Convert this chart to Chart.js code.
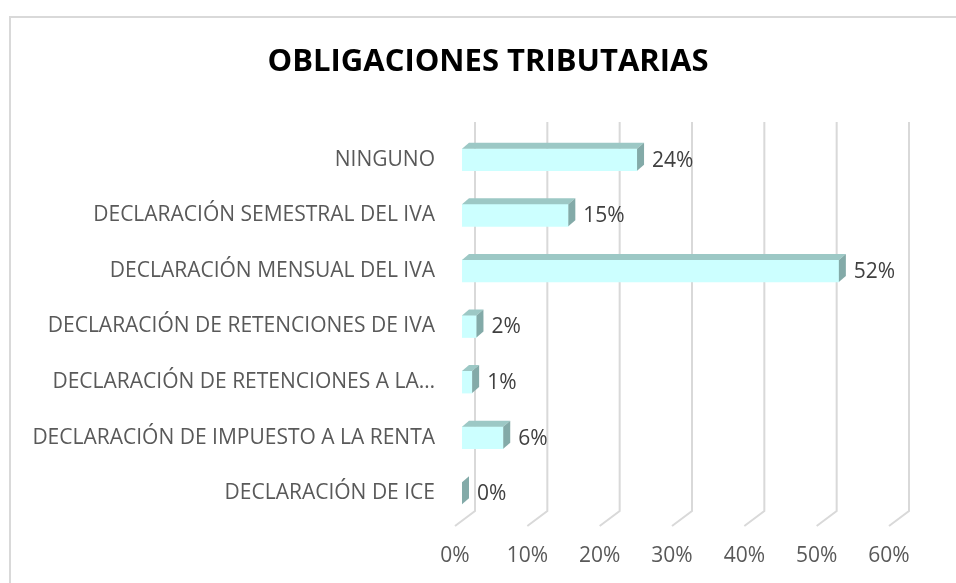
<!DOCTYPE html>
<html lang="es">
<head>
<meta charset="UTF-8">
<title>Obligaciones tributarias</title>
<script src="https://cdn.jsdelivr.net/npm/chart.js"></script>
<style>
  html, body { margin: 0; padding: 0; background: #fff; }
  #wrap { width: 956px; height: 583px; position: relative; }
</style>
</head>
<body>
<div id="wrap"><canvas id="grafico"></canvas></div>
<script>
// datos (de arriba hacia abajo)
const titulo = 'OBLIGACIONES TRIBUTARIAS';
const categorias = [
  'NINGUNO',
  'DECLARACIÓN SEMESTRAL DEL IVA',
  'DECLARACIÓN MENSUAL DEL IVA',
  'DECLARACIÓN DE RETENCIONES DE IVA',
  'DECLARACIÓN DE RETENCIONES A LA…',
  'DECLARACIÓN DE IMPUESTO A LA RENTA',
  'DECLARACIÓN DE ICE'
];
const porcentajes = [24.2, 14.7, 52.1, 2.0, 1.4, 5.7, 0];
const ejeMin = 0, ejeMax = 60, ejePaso = 10;

const FUENTE = "'Open Sans', 'DejaVu Sans', sans-serif";
const DX = 7, DY = 6;          // profundidad de las barras
const FONDO_DX = 13;           // pared del fondo respecto a la barra
const SUELO_DX = 20, SUELO_DY = 15;

// marco gris + titulo
const marco = {
  id: 'marco',
  beforeDraw(chart) {
    const c = chart.ctx;
    c.save();
    c.strokeStyle = '#d9d9d9';
    c.lineWidth = 2;
    c.beginPath();
    c.moveTo(10, chart.height + 5);
    c.lineTo(10, 17);
    c.lineTo(chart.width + 5, 17);
    c.stroke();
    c.fillStyle = '#000';
    c.font = 'bold 31px ' + FUENTE;
    c.textAlign = 'center';
    c.textBaseline = 'middle';
    c.fillText(titulo, chart.width / 2 + 10, 62);
    c.restore();
  }
};

// lineas de division en perspectiva
const rejilla3d = {
  id: 'rejilla3d',
  beforeDatasetsDraw(chart) {
    const c = chart.ctx, x = chart.scales.x, a = chart.chartArea;
    c.save();
    c.strokeStyle = '#d9d9d9';
    c.lineWidth = 2;
    for (let v = ejeMin; v <= ejeMax; v += ejePaso) {
      const xb = x.getPixelForValue(v) + FONDO_DX;
      c.beginPath();
      c.moveTo(xb, a.top - 10);
      c.lineTo(xb, a.bottom - 10);
      c.lineTo(xb - SUELO_DX, a.bottom - 10 + SUELO_DY);
      c.stroke();
    }
    c.restore();
  }
};

// caras superior y lateral + etiquetas
const barras3d = {
  id: 'barras3d',
  afterDatasetsDraw(chart) {
    const c = chart.ctx;
    const meta = chart.getDatasetMeta(0);
    c.save();
    meta.data.forEach((bar, i) => {
      const p = bar.getProps(['x', 'y', 'base', 'height'], true);
      const top = p.y - p.height / 2, bot = p.y + p.height / 2;
      c.fillStyle = '#9cc8c5';
      c.beginPath();
      c.moveTo(p.base, top);
      c.lineTo(p.x, top);
      c.lineTo(p.x + DX, top - DY);
      c.lineTo(p.base + DX, top - DY);
      c.closePath();
      c.fill();
      c.fillStyle = '#83aaa8';
      c.beginPath();
      c.moveTo(p.x, top);
      c.lineTo(p.x + DX, top - DY);
      c.lineTo(p.x + DX, bot - DY);
      c.lineTo(p.x, bot);
      c.closePath();
      c.fill();

      c.fillStyle = '#404040';
      c.font = '21px ' + FUENTE;
      c.textAlign = 'left';
      c.textBaseline = 'middle';
      c.fillText(Math.round(porcentajes[i]) + '%', p.x + 15, p.y + 1);
    });
    c.restore();
  }
};

new Chart(document.getElementById('grafico'), {
  type: 'bar',
  data: {
    labels: categorias,
    datasets: [{
      data: porcentajes,
      backgroundColor: '#ccffff',
      borderWidth: 0,
      barThickness: 22
    }]
  },
  options: {
    indexAxis: 'y',
    responsive: true,
    maintainAspectRatio: false,
    animation: false,
    layout: { padding: { left: 12, right: 60, top: 132, bottom: 15 } },
    plugins: {
      legend: { display: false },
      tooltip: { enabled: false },
      title: { display: false }
    },
    scales: {
      x: {
        min: ejeMin,
        max: ejeMax,
        grid: { display: false, drawTicks: false },
        border: { display: false },
        afterFit(s) { s.height = 47; },
        ticks: {
          stepSize: ejePaso,
          labelOffset: -7,
          padding: 22,
          maxRotation: 0,
          color: '#595959',
          font: { family: FUENTE, size: 21 },
          callback: v => v + '%'
        }
      },
      y: {
        grid: { display: false, drawTicks: false },
        border: { display: false },
        afterFit(s) { s.width = 450; },
        ticks: {
          padding: 27,
          autoSkip: false,
          color: '#595959',
          font: { family: FUENTE, size: 21 }
        }
      }
    }
  },
  plugins: [marco, rejilla3d, barras3d]
});
</script>
</body>
</html>
